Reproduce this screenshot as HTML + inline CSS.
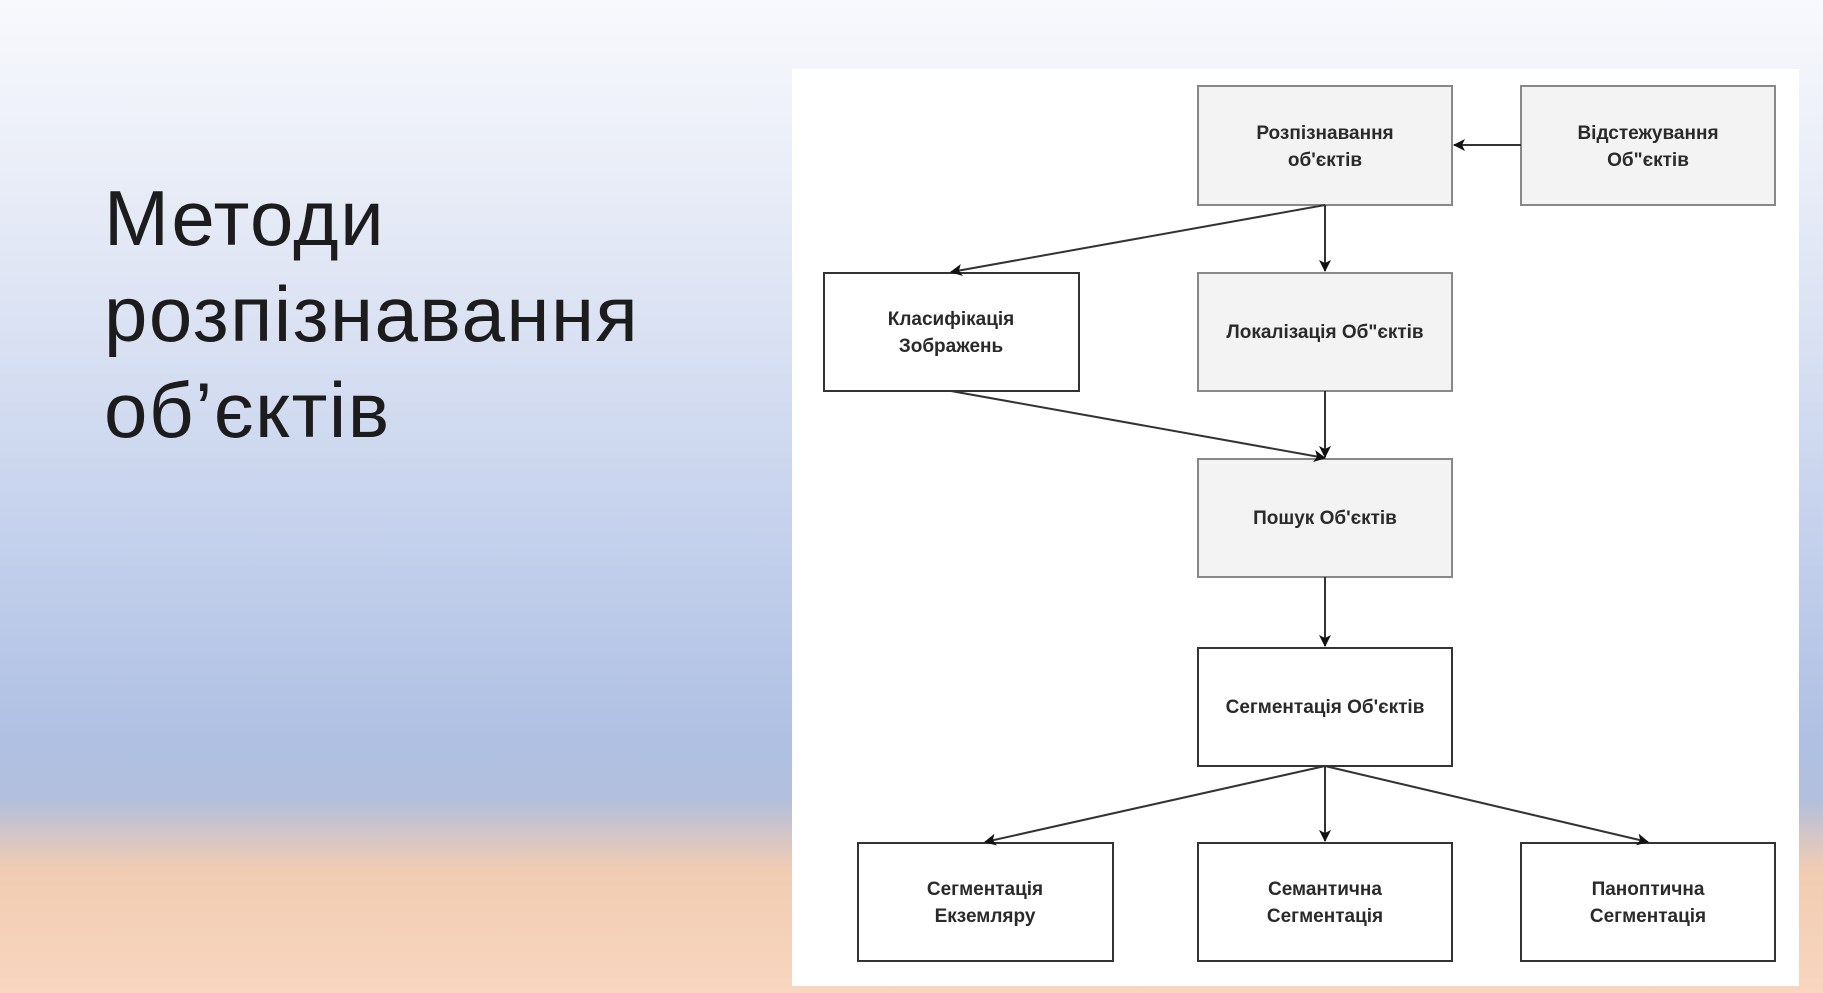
<!DOCTYPE html>
<html><head><meta charset="utf-8"><style>
html,body{margin:0;padding:0;}
body{width:1823px;height:993px;overflow:hidden;position:relative;
background:linear-gradient(180deg,#f8f9fd 0px,#eef1f9 120px,#d8e0f2 350px,#c3d0ec 550px,#afc0e3 740px,#b3bfdc 800px,#f1ccb2 870px,#f8d6bf 993px);}
.title{position:absolute;left:104px;top:170px;font-family:"Liberation Sans",sans-serif;font-size:78px;line-height:96px;color:#1c1c1c;font-weight:normal;letter-spacing:1.5px;}
.panel{position:absolute;left:792px;top:69px;width:1007px;height:917px;background:#fff;}
svg{position:absolute;left:0;top:0;}
text{font-family:"Liberation Sans",sans-serif;font-weight:bold;font-size:19px;fill:#2a2a2a;text-anchor:middle;}
</style></head><body>
<div class="title">Методи<br>розпізнавання<br>об’єктів</div>
<div class="panel"></div>
<svg width="1823" height="993" viewBox="0 0 1823 993">
<defs><marker id="a" markerWidth="12" markerHeight="12" refX="11" refY="6" orient="auto" markerUnits="userSpaceOnUse"><path d="M0,0 L12,6 L0,12 L3,6 z" fill="#111"/></marker></defs>
<g stroke-width="2">
<rect x="1198" y="86" width="254" height="119" fill="#f3f3f3" stroke="#888"/>
<rect x="1521" y="86" width="254" height="119" fill="#f3f3f3" stroke="#888"/>
<rect x="824" y="273" width="255" height="118" fill="#fff" stroke="#333"/>
<rect x="1198" y="273" width="254" height="118" fill="#f3f3f3" stroke="#888"/>
<rect x="1198" y="459" width="254" height="118" fill="#f3f3f3" stroke="#888"/>
<rect x="1198" y="648" width="254" height="118" fill="#fff" stroke="#333"/>
<rect x="858" y="843" width="255" height="118" fill="#fff" stroke="#333"/>
<rect x="1198" y="843" width="254" height="118" fill="#fff" stroke="#333"/>
<rect x="1521" y="843" width="254" height="118" fill="#fff" stroke="#333"/>
</g>
<g stroke="#333" stroke-width="2" fill="none" marker-end="url(#a)">
<line x1="1521" y1="145" x2="1454" y2="145"/>
<line x1="1325" y1="205" x2="951" y2="272"/>
<line x1="1325" y1="205" x2="1325" y2="271"/>
<line x1="951" y1="391" x2="1325" y2="458"/>
<line x1="1325" y1="391" x2="1325" y2="457"/>
<line x1="1325" y1="577" x2="1325" y2="646"/>
<line x1="1325" y1="766" x2="985" y2="842"/>
<line x1="1325" y1="766" x2="1325" y2="841"/>
<line x1="1325" y1="766" x2="1648" y2="842"/>
</g>
<text x="1325" y="139">Розпізнавання</text><text x="1325" y="166">об'єктів</text>
<text x="1648" y="139">Відстежування</text><text x="1648" y="166">Об"єктів</text>
<text x="951" y="325">Класифікація</text><text x="951" y="352">Зображень</text>
<text x="1325" y="338">Локалізація Об"єктів</text>
<text x="1325" y="524">Пошук Об'єктів</text>
<text x="1325" y="713">Сегментація Об'єктів</text>
<text x="985" y="895">Сегментація</text><text x="985" y="922">Екземляру</text>
<text x="1325" y="895">Семантична</text><text x="1325" y="922">Сегментація</text>
<text x="1648" y="895">Паноптична</text><text x="1648" y="922">Сегментація</text>
</svg>
</body></html>
